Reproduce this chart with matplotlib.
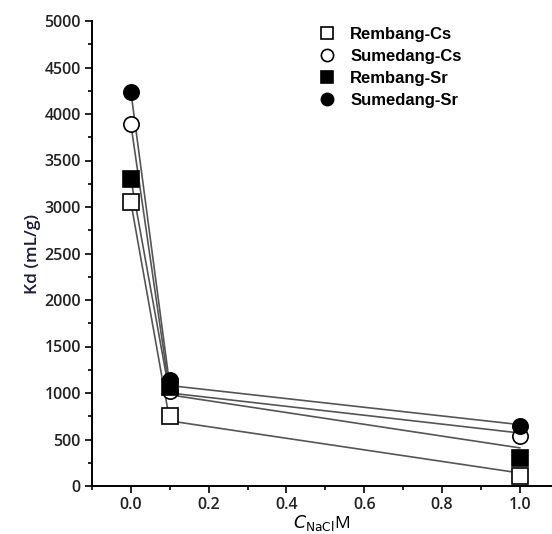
import matplotlib
matplotlib.use("Agg")
import matplotlib.pyplot as plt
from matplotlib.ticker import MultipleLocator

plt.rcParams["font.family"] = ["Open Sans", "DejaVu Sans"]

# NaCl concentration (M)
conc = [0.0, 0.1, 1.0]

# measured Kd (mL/g)
series = ["Rembang-Cs", "Sumedang-Cs", "Rembang-Sr", "Sumedang-Sr"]
kd_rembang_cs = [3050, 750, 110]
kd_sumedang_cs = [3890, 1020, 540]
kd_rembang_sr = [3300, 1060, 300]
kd_sumedang_sr = [4240, 1140, 645]

# fitted curves as drawn in the figure
fit_rembang_cs = [3050, 700, 140]
fit_sumedang_cs = [3890, 1000, 570]
fit_rembang_sr = [3300, 980, 410]
fit_sumedang_sr = [4240, 1080, 660]

measured = [kd_rembang_cs, kd_sumedang_cs, kd_rembang_sr, kd_sumedang_sr]
fitted = [fit_rembang_cs, fit_sumedang_cs, fit_rembang_sr, fit_sumedang_sr]
markers = ["s", "o", "s", "o"]
faces = ["white", "white", "black", "black"]

fig = plt.figure(figsize=(5.52, 5.34), dpi=100)
ax = fig.add_axes([92 / 552, 48 / 534, 460 / 552, 465 / 534])

for fit in fitted:
    ax.plot(conc, fit, color="#555555", lw=1.2, zorder=1)

for name, vals, m, fc in zip(series, measured, markers, faces):
    ax.plot(conc, vals, linestyle="none", marker=m, markersize=11,
            markerfacecolor=fc, markeredgecolor="black", markeredgewidth=1.2,
            label=name, zorder=3)

ax.set_xlim(-0.1, 1.083)
ax.set_ylim(0, 5000)
ax.xaxis.set_major_locator(MultipleLocator(0.2))
ax.xaxis.set_minor_locator(MultipleLocator(0.1))
ax.yaxis.set_major_locator(MultipleLocator(500))
ax.yaxis.set_minor_locator(MultipleLocator(250))
ax.tick_params(which="both", direction="out", width=1.2)
ax.tick_params(which="major", length=5, labelsize=11.5, pad=3)
ax.tick_params(which="minor", length=3)
for lab in ax.get_xticklabels() + ax.get_yticklabels():
    lab.set_fontweight("semibold")
    lab.set_color("#222222")

ax.spines["top"].set_visible(False)
ax.spines["right"].set_visible(False)
ax.spines["left"].set_linewidth(1.4)
ax.spines["bottom"].set_linewidth(1.4)

ax.set_ylabel("Kd (mL/g)", fontsize=12.5, fontweight="semibold",
              color="#1a1a40", labelpad=2)
ax.set_xlabel(r"$C_{\mathrm{NaCl}}$M", fontsize=12.5, labelpad=0)

ax.legend(loc="upper left", bbox_to_anchor=(0.46, 1.02), frameon=False,
          prop={"family": "Liberation Sans", "weight": "bold", "size": 12},
          handletextpad=0.9, labelspacing=0.42,
          markerscale=0.8, handlelength=1.0)

fig.savefig("out.png", dpi=100)
